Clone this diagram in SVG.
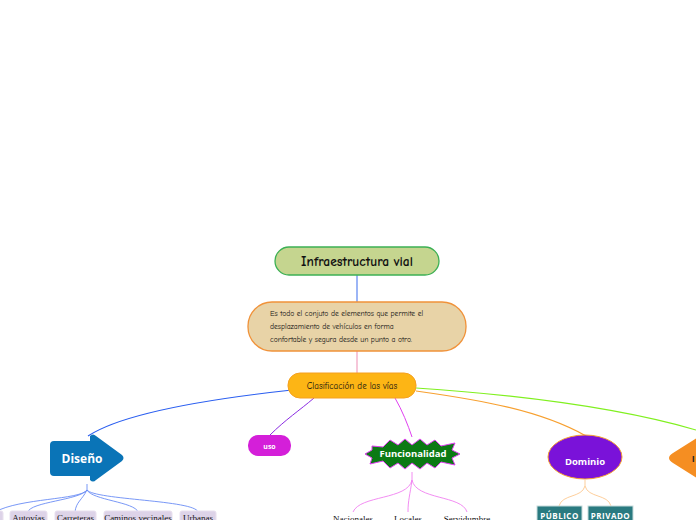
<svg xmlns="http://www.w3.org/2000/svg" width="696" height="520" viewBox="0 0 696 520">
<style>
.hand{font-family:"Comic Neue","Liberation Sans",sans-serif;fill:#111}
.wb{font-family:"Open Sans","DejaVu Sans",sans-serif;font-weight:bold;fill:#fff}
.ser{font-family:"Liberation Serif",serif;font-size:9px;fill:#111;text-anchor:middle}
.lav{fill:#ddd3e8;stroke:#e8e0ee;stroke-width:1}
.teal{fill:#2a7a80;stroke:#c8dcdc;stroke-width:1}
.conn{fill:none}
</style>
<rect width="696" height="520" fill="#fff"/>
<g id="connectors">
<path class="conn" d="M357 275 L357 302" stroke="#5a84f0" stroke-width="1.2"/>
<path class="conn" d="M357 351 L357 374" stroke="#f0a0c0" stroke-width="1.2"/>
<path class="conn" d="M292 390 C200 400 120 415 88 436" stroke="#2a5ef0" stroke-width="1.2"/>
<path class="conn" d="M314 398 C300 410 285 420 270 435" stroke="#8a2be2" stroke-width="1"/>
<path class="conn" d="M395 398 C402 410 408 425 412 437" stroke="#e040f0" stroke-width="1"/>
<path class="conn" d="M416 391 C480 400 540 410 586 436" stroke="#f7a030" stroke-width="1.2"/>
<path class="conn" d="M416 388 C520 395 620 408 696 430" stroke="#80f020" stroke-width="1.2"/>
<g stroke="#6a8cf5" stroke-width="0.9" fill="none">
<path d="M87 484 L87 490 C80 500 20 498 -5 512"/>
<path d="M87 490 C80 500 30 502 28 512"/>
<path d="M87 490 C82 500 76 502 75 512"/>
<path d="M87 490 C92 500 135 502 138 512"/>
<path d="M87 490 C95 500 195 500 198 512"/>
</g>
<g stroke="#f080f0" stroke-width="0.9" fill="none">
<path d="M412 472 L412 480 C408 500 360 495 353 512"/>
<path d="M412 480 C410 495 408 500 408 512"/>
<path d="M412 480 C416 500 462 495 467 512"/>
</g>
<g stroke="#fdc890" stroke-width="0.9" fill="none">
<path d="M585 480 L585 486 C582 498 562 494 559 506"/>
<path d="M585 486 C588 498 608 494 611 506"/>
</g>
</g>
<g id="infraestructura">
<rect x="275" y="247" width="164" height="28" rx="14" fill="#c5d58f" stroke="#3cb054" stroke-width="1.3"/>
<text class="hand" x="357" y="266" font-size="13.5" text-anchor="middle" font-weight="bold">Infraestructura vial</text>
</g>
<g id="descripcion">
<rect x="248" y="302" width="218" height="49" rx="24" fill="#e8d3a7" stroke="#f0923a" stroke-width="1.3"/>
<text class="hand" font-size="7.6"><tspan x="270" y="316">Es todo el conjuto de elementos que permite el</tspan><tspan x="270" y="329">desplazamiento de vehículos en forma</tspan><tspan x="270" y="342">confortable y segura desde un punto a otro.</tspan></text>
</g>
<g id="clasificacion">
<rect x="288" y="373" width="128" height="25" rx="12" fill="#fdb515" stroke="#f5a020" stroke-width="1"/>
<text class="hand" x="352" y="389" font-size="9" text-anchor="middle">Clasificación de las vías</text>
</g>
<g id="diseno">
<path d="M54 441 L90 441 L90 436 Q93 433 96 436 L122 455 Q125 458 122 461 L96 480 Q93 483 90 480 L90 476 L54 476 Q50 476 50 472 L50 445 Q50 441 54 441 Z" fill="#0a74b7"/>
<text class="wb" x="82" y="463" font-size="12" text-anchor="middle">Diseño</text>
</g>
<g id="uso">
<rect x="248" y="435" width="43" height="21" rx="10" fill="#d41fd9"/>
<text class="wb" x="269.5" y="449" font-size="7" text-anchor="middle">uso</text>
</g>
<g id="funcionalidad">
<path d="M372 446 L383 447 L390 440 L398 445 L405 439 L412 445 L420 439 L427 445 L435 440 L441 446 L455 443 L452 450 L460 454 L452 458 L455 465 L441 462 L435 468 L427 463 L420 469 L412 463 L405 469 L398 463 L390 468 L383 461 L370 464 L372 458 L365 454 L372 450 Z" fill="#0b7a14" stroke="#e040f0" stroke-width="1"/>
<text class="wb" x="413" y="457" font-size="9.5" text-anchor="middle">Funcionalidad</text>
</g>
<g id="dominio">
<ellipse cx="585" cy="457" rx="37" ry="22" fill="#7a12d9" stroke="#f5a030" stroke-width="1"/>
<text class="wb" x="585" y="465" font-size="9.5" text-anchor="middle">Dominio</text>
</g>
<g id="rightnode">
<path d="M700 436 L673 453 Q665 458 673 463 L700 480 Z" fill="#f58e22"/>
<text x="692" y="462" font-family="Liberation Sans,sans-serif" font-weight="bold" font-size="9" fill="#222">I</text>
</g>
<g id="d-child0"><rect class="lav" x="-20" y="511" width="23" height="14" rx="2"/></g>
<g id="autovias"><rect class="lav" x="10" y="511" width="37" height="14" rx="2"/><text class="ser" x="28.5" y="521">Autovías</text></g>
<g id="carreteras"><rect class="lav" x="55" y="511" width="41" height="14" rx="2"/><text class="ser" x="75.5" y="521">Carreteras</text></g>
<g id="caminos"><rect class="lav" x="104" y="511" width="68" height="14" rx="2"/><text class="ser" x="138" y="521">Caminos vecinales</text></g>
<g id="urbanas"><rect class="lav" x="180" y="511" width="36" height="14" rx="2"/><text class="ser" x="198" y="521">Urbanas</text></g>
<g id="nacionales"><text class="ser" x="353" y="522" font-size="10.5">Nacionales</text></g>
<g id="locales"><text class="ser" x="408" y="522" font-size="10.5">Locales</text></g>
<g id="servidumbre"><text class="ser" x="467" y="522" font-size="10.5">Servidumbre</text></g>
<g id="publico"><rect class="teal" x="537" y="506" width="45" height="18"/><text class="wb" x="559.5" y="519" font-size="8" text-anchor="middle" letter-spacing="0.5">PÚBLICO</text></g>
<g id="privado"><rect class="teal" x="588" y="506" width="45" height="18"/><text class="wb" x="610.5" y="519" font-size="8" text-anchor="middle" letter-spacing="0.5">PRIVADO</text></g>
</svg>
